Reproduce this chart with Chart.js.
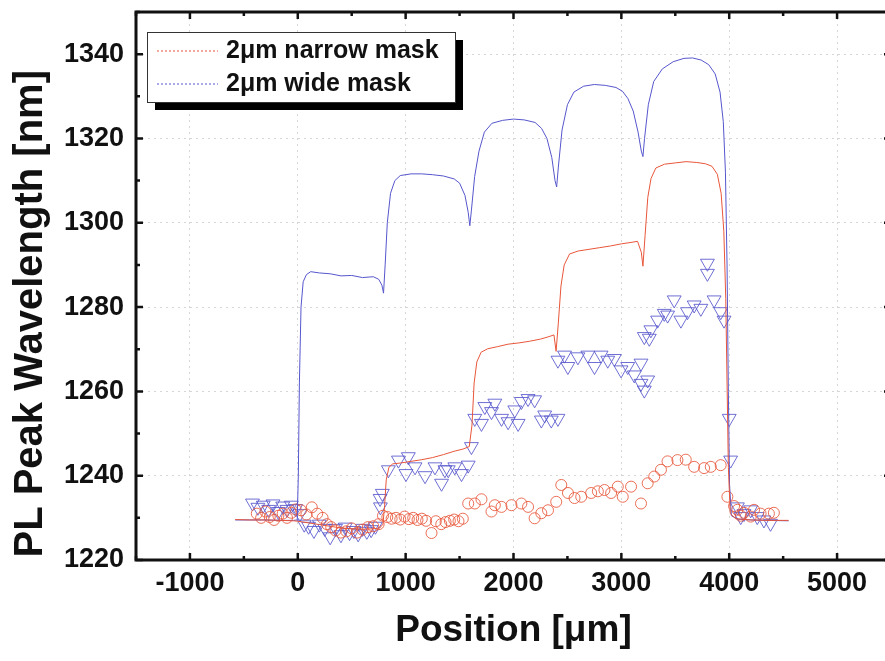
<!DOCTYPE html>
<html><head><meta charset="utf-8">
<script src="https://cdn.jsdelivr.net/npm/chart.js@4.4.0/dist/chart.umd.min.js"></script>
<style>html,body{margin:0;padding:0;background:#fff;overflow:hidden;width:885px;height:661px}canvas{display:block}</style>
</head><body>
<canvas id="c" width="900" height="661"></canvas>
<script>
const xTickValues = [-1000,0,1000,2000,3000,4000,5000];
const yTickValues = [1220,1240,1260,1280,1300,1320,1340];
const seriesLabels = ['2\u03BCm narrow mask','2\u03BCm wide mask'];

const narrowLineX = [-580,-450,-300,-150,-40,0,100,200,300,400,500,600,700,760,790,805,820,845,880,950,1050,1150,1250,1350,1450,1530,1590,1615,1635,1660,1700,1760,1850,1950,2050,2150,2250,2330,2375,2395,2415,2440,2470,2520,2600,2700,2800,2900,3000,3080,3150,3185,3200,3220,3245,3275,3320,3400,3500,3600,3700,3780,3840,3890,3925,3950,3968,3980,3992,4010,4060,4200,4350,4550];
const narrowLineY = [1229.6,1229.5,1229.5,1229.4,1229.3,1229.2,1228.8,1228.4,1228.0,1227.6,1227.4,1227.3,1227.4,1227.6,1228.5,1233,1239,1242,1242.8,1243.0,1243.4,1243.8,1244.3,1245.0,1245.8,1246.3,1246.9,1252,1262,1267,1269.3,1270.1,1270.6,1271.2,1271.5,1271.9,1272.4,1273.0,1273.4,1269.5,1276,1285,1290,1292.6,1293.3,1293.7,1294.1,1294.5,1295.0,1295.3,1295.6,1293,1289.7,1297,1306,1310.5,1313,1313.9,1314.2,1314.5,1314.3,1314.0,1313.4,1311.5,1307,1298,1282,1262,1242,1231,1229.8,1229.5,1229.4,1229.4];

const wideLineX = [-580,-450,-300,-150,-40,-5,5,15,30,50,80,120,200,300,400,500,600,700,750,780,795,810,830,860,900,950,1050,1150,1250,1350,1450,1500,1550,1580,1595,1610,1640,1680,1730,1800,1900,2000,2100,2200,2260,2310,2355,2385,2400,2415,2450,2500,2560,2650,2750,2850,2950,3010,3060,3110,3155,3185,3200,3215,3250,3300,3380,3480,3580,3660,3740,3810,3870,3915,3945,3965,3980,3992,4003,4020,4080,4200,4350,4550];
const wideLineY = [1229.5,1229.5,1229.5,1229.4,1229.4,1229.5,1240,1262,1280,1286,1287.7,1288.4,1288.1,1287.9,1287.4,1287.5,1287.0,1287.2,1286.6,1285.2,1283.3,1290,1300,1307,1310,1311.2,1311.6,1311.6,1311.4,1311.1,1310.4,1309.4,1306.5,1302.5,1299.3,1303,1311,1317,1321.5,1323.6,1324.3,1324.6,1324.4,1323.8,1322.4,1320,1315.5,1310,1308.5,1313,1322,1328,1331,1332.4,1332.8,1332.6,1332.1,1331.2,1329.5,1326.5,1321.5,1317,1315.7,1320,1328,1333.5,1336.5,1338.2,1339.0,1339.1,1338.6,1337.5,1335.3,1331,1324,1312,1290,1260,1238,1230.5,1229.7,1229.5,1229.4,1229.3];

const narrowPtsX = [-380,-340,-300,-260,-220,-180,-140,-100,-60,-20,30,80,130,180,230,270,310,350,400,450,500,550,600,650,700,750,790,830,870,910,950,990,1030,1070,1110,1150,1190,1240,1280,1330,1370,1410,1450,1490,1530,1580,1641,1703,1796,1827,1889,1981,2073,2135,2196,2258,2320,2396,2443,2505,2566,2628,2720,2782,2843,2905,2967,3013,3090,3182,3244,3305,3367,3428,3520,3597,3675,3767,3829,3921,3983,4045,4076,4107,4137,4199,4230,4291,4368,4414];
const narrowPtsY = [1231,1230,1231.5,1230.2,1229.5,1230.5,1231,1230,1231.2,1232,1231.8,1230.8,1232.5,1231,1230,1228.5,1227.8,1227,1226.5,1226.8,1227.5,1226.5,1227.2,1227.8,1228,1228.5,1230.5,1230.2,1229.8,1230,1229.6,1230.3,1229.7,1230,1229.5,1229.8,1229.3,1226.4,1229.2,1228.5,1229,1229.3,1229.6,1229.2,1229.8,1233.4,1233.4,1234.4,1231.5,1233,1232.6,1233,1233.4,1232.6,1229.9,1231.1,1231.8,1233.8,1237.8,1235.9,1234.7,1235,1235.9,1236.3,1236.6,1235.9,1237.4,1235,1237.4,1233.4,1238.2,1239.8,1241.4,1243.4,1243.7,1243.8,1242.1,1241.8,1242.1,1242.5,1235,1232.8,1231.9,1230.5,1231.2,1230.3,1231.9,1231,1231,1231.2];

const widePtsX = [-420,-370,-320,-270,-230,-180,-140,-100,-60,-20,20,60,100,150,200,250,300,350,400,440,480,520,560,600,640,680,720,763,766,784,840,933,1003,1025,1087,1180,1272,1333,1364,1395,1456,1518,1580,1610,1641,1703,1734,1796,1827,1889,1950,2012,2043,2073,2135,2196,2258,2289,2350,2412,2412,2473,2504,2597,2689,2751,2812,2874,2935,2997,3059,3120,3182,3182,3213,3213,3244,3259,3274,3336,3398,3429,3490,3552,3613,3675,3737,3798,3798,3860,3921,3952,4000,4013,4076,4107,4137,4199,4260,4322,4383];
const widePtsY = [1233.5,1232.5,1233,1232,1233.3,1231.5,1232.8,1232,1233,1232.2,1231,1228.5,1228,1227,1228.5,1227.5,1225.5,1227.5,1226,1227.8,1226.5,1227,1226.2,1227.5,1226.8,1227.2,1228,1234.6,1232.6,1235.8,1241.4,1243.7,1240.5,1244.5,1242.1,1240,1242.1,1238.2,1241.4,1241.4,1242.1,1240.5,1242.5,1246.9,1253.6,1252.4,1256.4,1255.2,1257.2,1253.6,1252.8,1255.6,1252.4,1257.6,1258.3,1258,1253.2,1254.4,1253.2,1253.6,1267.4,1268.6,1265.9,1268.2,1268.6,1265.9,1268.6,1267.4,1267.8,1265.1,1265.9,1263.9,1261.9,1266.7,1260.3,1273,1262.7,1272.6,1274.6,1276.9,1278.5,1278.1,1281.7,1276.9,1278.9,1280.5,1279.7,1290.4,1288,1281.7,1278.9,1276.9,1253.6,1243.7,1232.6,1230.3,1231,1231.9,1230.3,1229.5,1228.7];

const toXY = (xs, ys) => xs.map((x, i) => ({x: x, y: ys[i]}));
const FONT = "'Liberation Sans', Arial, Helvetica, sans-serif";
const RED = 'rgb(232,86,58)';
const BLUE = 'rgb(86,86,205)';
const INK = '#111';

const framePlugin = {
  id: 'frame',
  afterDraw(chart) {
    const {ctx, chartArea: a, scales} = chart;
    const xs = scales.x, ys = scales.y;
    ctx.save();
    ctx.strokeStyle = INK;
    ctx.lineWidth = 2.5;
    ctx.beginPath();
    for (let v = xs.min; v <= xs.max; v += 500) {
      const p = xs.getPixelForValue(v);
      const L = (v % 1000 === 0) ? 7 : 4;
      ctx.moveTo(p, a.bottom); ctx.lineTo(p, a.bottom - L);
      ctx.moveTo(p, a.top); ctx.lineTo(p, a.top + L);
    }
    for (let v = ys.min; v <= ys.max; v += 10) {
      const p = ys.getPixelForValue(v);
      const L = (v % 20 === 0) ? 7 : 4;
      ctx.moveTo(a.left, p); ctx.lineTo(a.left + L, p);
      ctx.moveTo(a.right, p); ctx.lineTo(a.right - L, p);
    }
    ctx.stroke();
    ctx.lineWidth = 3;
    ctx.strokeRect(a.left, a.top, a.right - a.left, a.bottom - a.top);

    // legend box with shadow
    const bx = a.left + 11, by = a.top + 20, bw = 308, bh = 70;
    ctx.fillStyle = '#000';
    ctx.fillRect(bx + 8, by + 8, bw, bh);
    ctx.fillStyle = '#fff';
    ctx.fillRect(bx, by, bw, bh);
    ctx.lineWidth = 1;
    ctx.strokeStyle = '#333';
    ctx.strokeRect(bx + 0.5, by + 0.5, bw, bh);
    const rows = [[seriesLabels[0], RED, by + 19], [seriesLabels[1], BLUE, by + 52]];
    ctx.font = 'bold 25px ' + FONT;
    ctx.textBaseline = 'middle';
    ctx.textAlign = 'left';
    rows.forEach(([t, c, yy]) => {
      ctx.strokeStyle = c;
      ctx.setLineDash([2, 2]);
      ctx.beginPath(); ctx.moveTo(bx + 10, yy); ctx.lineTo(bx + 71, yy); ctx.stroke();
      ctx.setLineDash([]);
      ctx.fillStyle = INK;
      ctx.fillText(t, bx + 79, yy);
    });
    ctx.restore();
  }
};

new Chart(document.getElementById('c'), {
  type: 'scatter',
  data: {
    datasets: [
      {label: seriesLabels[0], data: toXY(narrowLineX, narrowLineY), showLine: true, borderColor: RED, borderWidth: 1, pointRadius: 0, tension: 0},
      {label: seriesLabels[1], data: toXY(wideLineX, wideLineY), showLine: true, borderColor: BLUE, borderWidth: 1, pointRadius: 0, tension: 0},
      {label: 'narrow exp', data: toXY(narrowPtsX, narrowPtsY), showLine: false, pointStyle: 'circle', pointRadius: 5.5, borderColor: 'rgba(232,86,58,0.85)', backgroundColor: 'rgba(0,0,0,0)', borderWidth: 1},
      {label: 'wide exp', data: toXY(widePtsX, widePtsY), showLine: false, pointStyle: 'triangle', rotation: 180, pointRadius: 8, borderColor: 'rgba(86,86,205,0.85)', backgroundColor: 'rgba(0,0,0,0)', borderWidth: 1}
    ]
  },
  options: {
    responsive: false,
    animation: false,
    devicePixelRatio: 1,
    layout: {padding: {left: 0, top: 12, right: 9, bottom: 0}},
    plugins: {legend: {display: false}, tooltip: {enabled: false}},
    scales: {
      x: {
        type: 'linear', min: -1500, max: 5500,
        afterBuildTicks: s => { s.ticks = xTickValues.map(v => ({value: v})); },
        afterFit: s => { s.height = 101; s.paddingLeft = 0; s.paddingRight = 0; },
        grid: {color: 'rgba(0,0,0,0.16)', lineWidth: 1, drawTicks: false},
        border: {display: false, dash: [2, 4]},
        ticks: {color: INK, padding: 7, font: {family: FONT, size: 27, weight: 'bold'}, maxRotation: 0, autoSkip: false, callback: v => String(v)},
        title: {display: true, text: 'Position [\u03BCm]', color: INK, font: {family: FONT, size: 37, weight: 'bold'}, padding: {bottom: 8}}
      },
      y: {
        type: 'linear', min: 1220, max: 1350,
        afterBuildTicks: s => { s.ticks = yTickValues.map(v => ({value: v})); },
        afterFit: s => { s.width = 136; s.paddingTop = 0; s.paddingBottom = 0; },
        grid: {color: 'rgba(0,0,0,0.16)', lineWidth: 1, drawTicks: false},
        border: {display: false, dash: [2, 4]},
        ticks: {color: INK, padding: 12, font: {family: FONT, size: 27, weight: 'bold'}, autoSkip: false, callback: v => String(v)},
        title: {display: true, text: 'PL Peak Wavelength [nm]     ', color: INK, font: {family: FONT, size: 40, weight: 'bold'}, padding: {top: 7}}
      }
    }
  },
  plugins: [framePlugin]
});
</script>
</body></html>
